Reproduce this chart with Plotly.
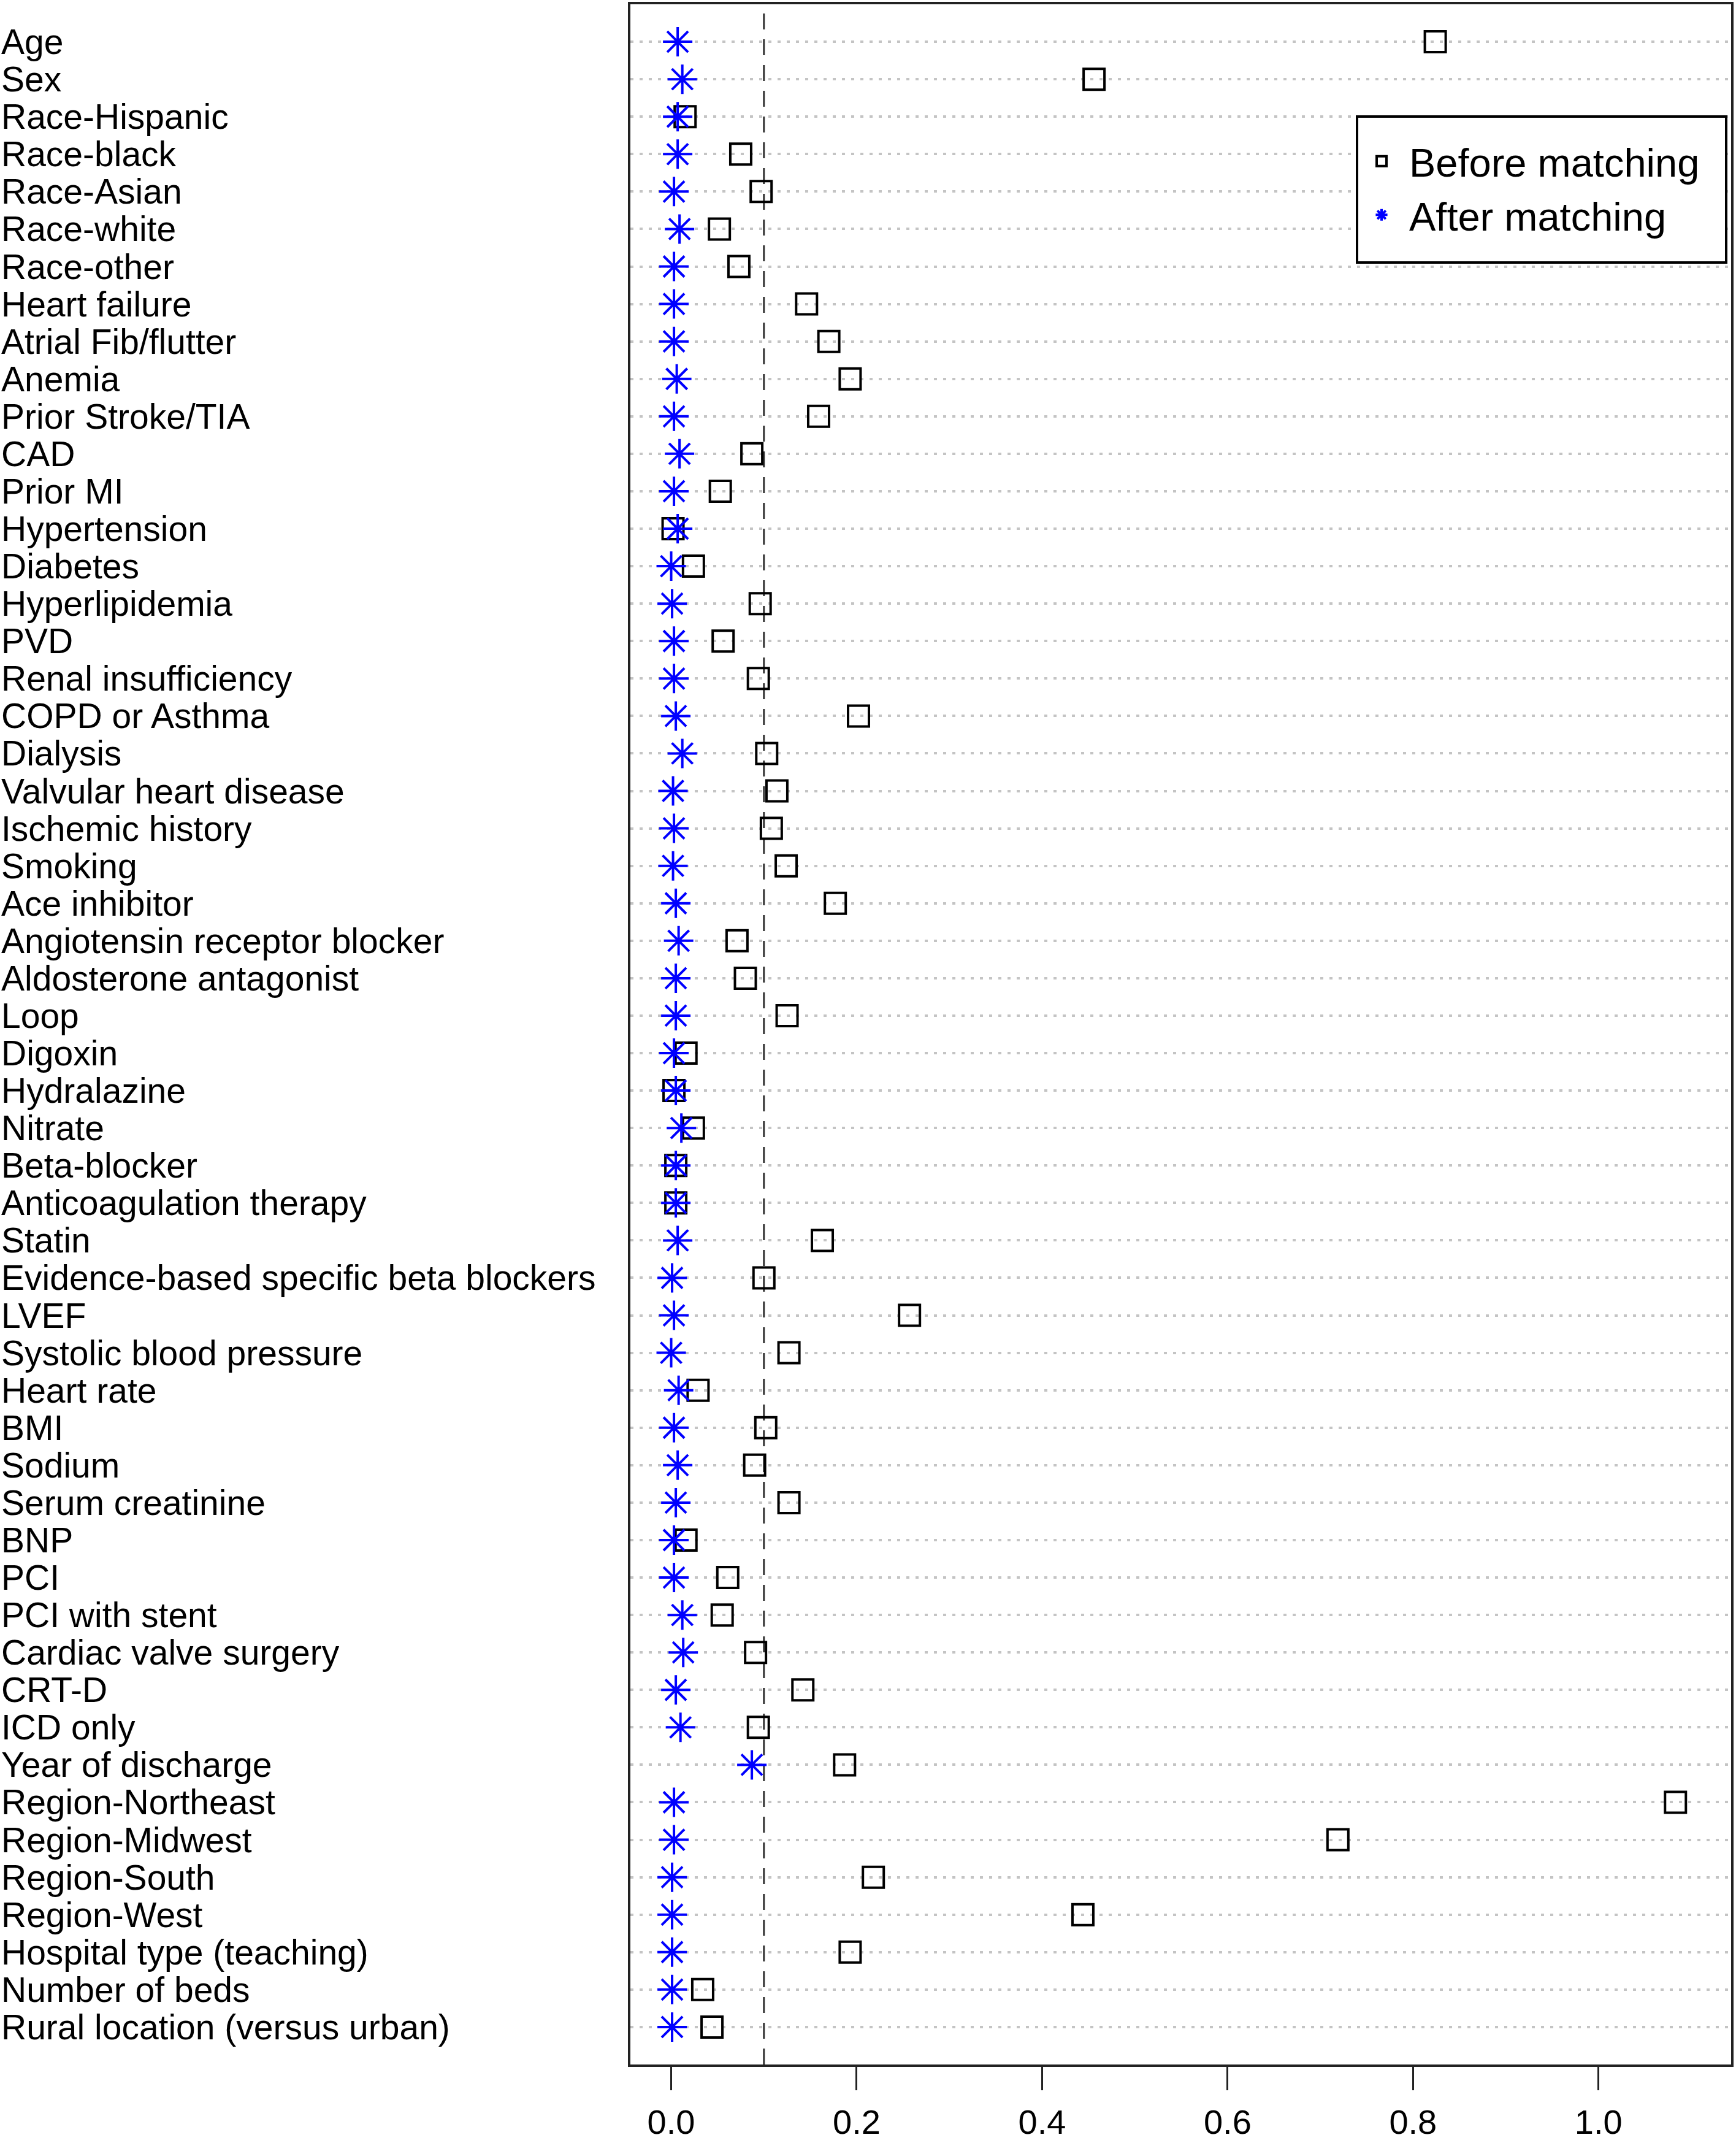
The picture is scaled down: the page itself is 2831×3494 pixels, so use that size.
import plotly.graph_objects as go

variables = [
    "Age", "Sex", "Race-Hispanic", "Race-black", "Race-Asian", "Race-white", "Race-other",
    "Heart failure", "Atrial Fib/flutter", "Anemia", "Prior Stroke/TIA", "CAD", "Prior MI",
    "Hypertension", "Diabetes", "Hyperlipidemia", "PVD", "Renal insufficiency", "COPD or Asthma",
    "Dialysis", "Valvular heart disease", "Ischemic history", "Smoking", "Ace inhibitor",
    "Angiotensin receptor blocker", "Aldosterone antagonist", "Loop", "Digoxin", "Hydralazine",
    "Nitrate", "Beta-blocker", "Anticoagulation therapy", "Statin",
    "Evidence-based specific beta blockers", "LVEF", "Systolic blood pressure", "Heart rate",
    "BMI", "Sodium", "Serum creatinine", "BNP", "PCI", "PCI with stent", "Cardiac valve surgery",
    "CRT-D", "ICD only", "Year of discharge", "Region-Northeast", "Region-Midwest",
    "Region-South", "Region-West", "Hospital type (teaching)", "Number of beds",
    "Rural location (versus urban)",
]

before_matching = [
    0.824, 0.456, 0.015, 0.075, 0.097, 0.052, 0.073,
    0.146, 0.170, 0.193, 0.159, 0.087, 0.053,
    0.002, 0.024, 0.096, 0.056, 0.094, 0.202,
    0.103, 0.114, 0.108, 0.124, 0.177,
    0.071, 0.080, 0.125, 0.016, 0.003,
    0.024, 0.005, 0.005, 0.163,
    0.100, 0.257, 0.127, 0.029,
    0.102, 0.090, 0.127, 0.016, 0.061, 0.055, 0.091,
    0.142, 0.094, 0.187, 1.083, 0.719,
    0.218, 0.444, 0.193, 0.034,
    0.044,
]

after_matching = [
    0.007, 0.012, 0.007, 0.007, 0.003, 0.009, 0.003,
    0.003, 0.003, 0.006, 0.003, 0.009, 0.003,
    0.007, 0.000, 0.001, 0.003, 0.003, 0.005,
    0.012, 0.002, 0.003, 0.002, 0.005,
    0.008, 0.005, 0.005, 0.003, 0.005,
    0.011, 0.005, 0.005, 0.007,
    0.001, 0.003, 0.000, 0.008,
    0.003, 0.007, 0.005, 0.003, 0.003, 0.012, 0.013,
    0.005, 0.010, 0.087, 0.003, 0.003,
    0.001, 0.001, 0.001, 0.001,
    0.001,
]

x_ticks = [0.0, 0.2, 0.4, 0.6, 0.8, 1.0]
threshold = 0.1

FONT = "Liberation Sans, Arial, Helvetica, sans-serif"
W, H = 2831, 3494
ML, MR, MT, MB = 1028, 8, 7, 128
PW = W - ML - MR
PH = H - MT - MB

fig = go.Figure()
fig.add_trace(go.Scatter(
    x=before_matching, y=variables, mode="markers", name="Before matching",
    marker=dict(symbol="square-open", size=34, color="black",
                line=dict(width=4, color="black")),
))
fig.add_trace(go.Scatter(
    x=after_matching, y=variables, mode="markers", name="After matching",
    marker=dict(symbol="asterisk-open", size=40, color="#0000FF",
                line=dict(width=4, color="#0000FF")),
))

# threshold reference line
fig.add_shape(type="line", xref="x", yref="paper", x0=threshold, x1=threshold,
              y0=0, y1=1, line=dict(color="#333333", width=3, dash="26px,16px"),
              layer="below")


def px_x(px):
    return (px - ML) / PW


def px_y(py):
    return 1 - (py - MT) / PH


# legend box (white background hides grid)
fig.add_shape(type="rect", xref="paper", yref="paper",
              x0=px_x(2213), x1=px_x(2815), y0=px_y(428), y1=px_y(190),
              fillcolor="white", line=dict(color="black", width=4), layer="above")

# left-aligned category labels
for v in variables:
    fig.add_annotation(x=px_x(0), y=v, xref="paper", yref="y", text=v,
                       showarrow=False, xanchor="left", yanchor="middle",
                       font=dict(family=FONT, size=57, color="black"))

cat_order = list(reversed(variables))

fig.update_layout(
    width=W, height=H,
    margin=dict(l=ML, r=MR, t=MT, b=MB, pad=0, autoexpand=False),
    paper_bgcolor="white", plot_bgcolor="white",
    font=dict(family=FONT, size=56, color="black"),
    showlegend=True,
    legend=dict(x=px_x(2208), y=px_y(214), xanchor="left", yanchor="top",
                bgcolor="rgba(0,0,0,0)", borderwidth=0, itemwidth=80,
                font=dict(family=FONT, size=65, color="black"),
                tracegroupgap=0),
    xaxis=dict(range=[-0.044, 1.143], tickvals=x_ticks, tickformat=".1f",
               automargin=False,
               showgrid=False, zeroline=False, showline=True, mirror=True,
               linecolor="#222222", linewidth=4, ticks="outside", ticklen=38,
               tickwidth=3, tickcolor="#222222", ticklabelstandoff=4,
               tickfont=dict(family=FONT, size=56, color="black")),
    yaxis=dict(type="category", categoryorder="array", categoryarray=cat_order,
               automargin=False,
               range=[-1, len(variables)], showticklabels=False, ticks="",
               showgrid=True, gridcolor="#c4c4c4", gridwidth=4, griddash="5px,10px",
               zeroline=False, showline=True, mirror=True,
               linecolor="#222222", linewidth=4),
)

fig.write_html("out.html", config={"displayModeBar": False},
               post_script="document.body.style.margin='0px';document.body.style.overflow='hidden';")
